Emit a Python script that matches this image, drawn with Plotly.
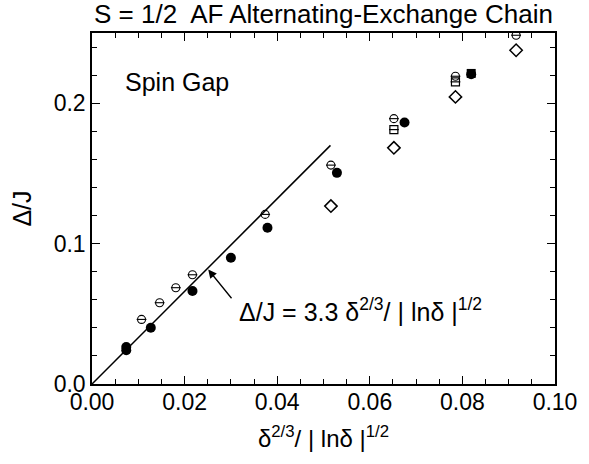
import plotly.graph_objects as go

# Filled circles
fc_x = [0.0074, 0.0074, 0.0127, 0.0217, 0.0300, 0.0379, 0.0529, 0.0675, 0.0819]
fc_y = [0.0263, 0.0240, 0.0401, 0.0662, 0.0899, 0.1113, 0.1504, 0.1862, 0.2206]
# Open circles with bar
oc_x = [0.0107, 0.0146, 0.0181, 0.0217, 0.0374, 0.0516, 0.0652, 0.0785, 0.0916]
oc_y = [0.0460, 0.0579, 0.0686, 0.0778, 0.1208, 0.1559, 0.1890, 0.2192, 0.2484]
# Open squares with bar
sq_x = [0.0652, 0.0785]
sq_y = [0.1812, 0.2152]
# Filled square
fs_x = [0.0819]
fs_y = [0.2212]
# Open diamonds
di_x = [0.0516, 0.0652, 0.0785, 0.0916]
di_y = [0.1267, 0.1682, 0.2045, 0.2377]
# Fit line Δ/J = 3.3 x
fit_coef = 3.3
fit_x = [0.0, 0.0515]
fit_y = [fit_coef * v for v in fit_x]

FONT = "Liberation Sans, Arial, sans-serif"
fig = go.Figure()
fig.add_trace(go.Scatter(x=fit_x, y=fit_y, mode="lines",
                         line=dict(color="black", width=1.5), showlegend=False))
fig.add_trace(go.Scatter(x=fs_x, y=fs_y, mode="markers",
                         marker=dict(symbol="square", size=9, color="black"), showlegend=False))
fig.add_trace(go.Scatter(x=fc_x, y=fc_y, mode="markers",
                         marker=dict(symbol="circle", size=10, color="black"), showlegend=False))
fig.add_trace(go.Scatter(x=sq_x, y=sq_y, mode="markers",
                         marker=dict(symbol="square-open", size=8, color="black",
                                     line=dict(width=1.2)), showlegend=False))
fig.add_trace(go.Scatter(x=sq_x, y=sq_y, mode="markers",
                         marker=dict(symbol="line-ew", size=7, color="black",
                                     line=dict(width=1.2, color="black")), showlegend=False))
fig.add_trace(go.Scatter(x=oc_x, y=oc_y, mode="markers",
                         marker=dict(symbol="circle-open", size=8, color="black",
                                     line=dict(width=1.1)), showlegend=False))
fig.add_trace(go.Scatter(x=oc_x, y=oc_y, mode="markers",
                         marker=dict(symbol="line-ew", size=7, color="black",
                                     line=dict(width=1.1, color="black")), showlegend=False))
fig.add_trace(go.Scatter(x=di_x, y=di_y, mode="markers",
                         marker=dict(symbol="diamond-open", size=9.5, color="black",
                                     line=dict(width=1.5)), showlegend=False))

axis_common = dict(showgrid=False, zeroline=False, showline=True, linecolor="black",
                   linewidth=1.5, mirror="allticks", ticks="inside", ticklen=8,
                   tickwidth=1.3, tickcolor="black",
                   tickfont=dict(family=FONT, size=23, color="black"))
fig.update_xaxes(range=[0, 0.1], dtick=0.02, tickformat=".2f", ticklabelstandoff=-3,
                 minor=dict(dtick=0.005, ticks="inside", ticklen=5, tickwidth=1.1, tickcolor="black"),
                 title=dict(text="δ<sup>2/3</sup>/ | lnδ |<sup>1/2</sup>",
                            font=dict(family=FONT, size=24, color="black"), standoff=16),
                 **axis_common)
fig.update_yaxes(range=[0, 0.25], dtick=0.1, tickformat=".1f",
                 minor=dict(dtick=0.02, ticks="inside", ticklen=5, tickwidth=1.1, tickcolor="black"),
                 title=dict(text="Δ/J", font=dict(family=FONT, size=25, color="black"), standoff=15),
                 **axis_common)

fig.add_annotation(x=0.5, y=1.0, xref="paper", yref="paper", yanchor="middle",
                   text="S = 1/2  AF Alternating-Exchange Chain", showarrow=False,
                   font=dict(family=FONT, size=26, color="black"), yshift=19)
fig.add_annotation(x=0.0068, y=0.215, xref="x", yref="y", xanchor="left",
                   text="Spin Gap", showarrow=False,
                   font=dict(family=FONT, size=25, color="black"))
fig.add_annotation(x=0.0251, y=0.0815, ax=0.0304, ay=0.060, xref="x", yref="y",
                   axref="x", ayref="y", text="", showarrow=True, arrowhead=2,
                   arrowsize=1.3, arrowwidth=1.3, arrowcolor="black")
fig.add_annotation(x=0.0313, y=0.053, xref="x", yref="y", xanchor="left",
                   text="Δ/J = 3.3 δ<sup>2/3</sup>/ | lnδ |<sup>1/2</sup>", showarrow=False,
                   font=dict(family=FONT, size=25, color="black"))

fig.update_layout(width=589, height=464, margin=dict(l=92, r=26, t=33, b=80),
                  plot_bgcolor="white", paper_bgcolor="white")
fig.write_html("out.html")
